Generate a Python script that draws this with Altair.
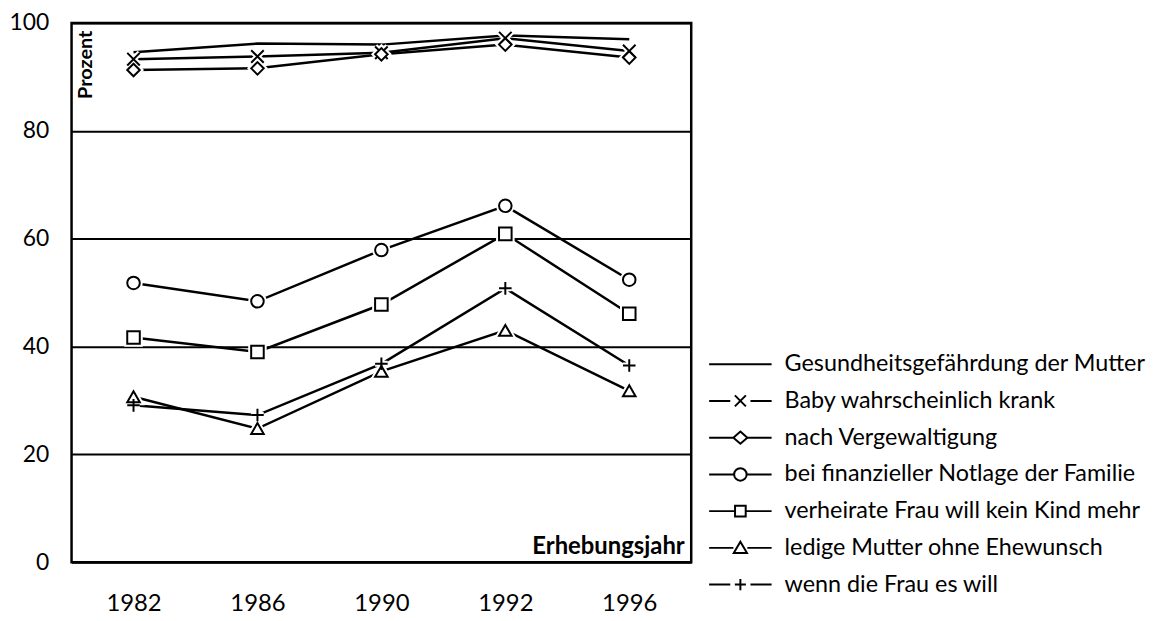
import altair as alt
import pandas as pd

years = ["1982", "1986", "1990", "1992", "1996"]
series = [
    "Gesundheitsgefährdung der Mutter",
    "Baby wahrscheinlich krank",
    "nach Vergewaltigung",
    "bei finanzieller Notlage der Familie",
    "verheirate Frau will kein Kind mehr",
    "ledige Mutter ohne Ehewunsch",
    "wenn die Frau es will",
]
gesundheit = [94.6, 96.2, 96.0, 97.7, 97.0]
baby = [93.3, 93.8, 94.5, 97.2, 94.8]
vergewaltigung = [91.3, 91.6, 94.2, 96.0, 93.6]
finanziell = [51.8, 48.4, 57.9, 66.1, 52.4]
verheiratet = [41.7, 39.0, 47.8, 60.9, 46.1]
ledig = [30.7, 24.8, 35.4, 43.0, 31.8]
wenn = [29.1, 27.3, 36.8, 50.8, 36.5]
values = [gesundheit, baby, vergewaltigung, finanziell, verheiratet, ledig, wenn]

rows = []
for si, (s, vals) in enumerate(zip(series, values)):
    for y, v in zip(years, vals):
        rows.append({"Jahr": y, "Prozent": v, "Serie": s, "order": si})
df = pd.DataFrame(rows)

FONT = "Lato"

# marker shapes for the plot (Gesundheit has none)
plot_series = series[1:]
plot_shapes = [
    "M-1,-1L1,1M-1,1L1,-1",
    "diamond",
    "circle",
    "square",
    "triangle-up",
    "M-1,0L1,0M0,-1L0,1",
]
# legend symbols: a line with the marker in the middle (unit = 18.5 px)
legend_shapes = [
    "M-1.7,0H1.7",
    "M-1.7,0H-0.55M0.55,0H1.7M-0.3,-0.3L0.3,0.3M-0.3,0.3L0.3,-0.3",
    "M-1.7,0H-0.38M0.38,0H1.7M0,-0.33L0.38,0L0,0.33L-0.38,0Z",
    "M-1.7,0H-0.34M0.34,0H1.7M-0.34,0A0.34,0.34,0,1,1,0.34,0A0.34,0.34,0,1,1,-0.34,0Z",
    "M-1.7,0H-0.29M0.29,0H1.7M-0.29,-0.29H0.29V0.29H-0.29Z",
    "M-1.7,0H-0.38M0.38,0H1.7M0,-0.34L0.36,0.28L-0.36,0.28Z",
    "M-1.7,0H-0.55M0.55,0H1.7M-0.3,0H0.3M0,-0.3V0.3",
]

x_enc = alt.X(
    "Jahr:O",
    sort=years,
    scale=alt.Scale(type="point", padding=0.5),
    axis=alt.Axis(
        labelAngle=0,
        labelFontSize=24,
        labelFont=FONT,
        labelColor="black",
        labelPadding=30,
        ticks=False,
        domain=False,
        grid=False,
        title="Erhebungsjahr",
        titleFont=FONT,
        titleFontSize=24,
        titleFontWeight="bold",
        titleColor="black",
        titleAlign="right",
        titleBaseline="alphabetic",
        titleX=617,
        titleY=-9,
    ),
)
y_enc = alt.Y(
    "Prozent:Q",
    scale=alt.Scale(domain=[0, 100], nice=False),
    axis=alt.Axis(
        values=[0, 20, 40, 60, 80, 100],
        labelFontSize=23,
        labelFont=FONT,
        labelColor="black",
        labelPadding=23,
        ticks=False,
        domain=False,
        grid=True,
        gridColor="black",
        gridWidth=2,
        gridOpacity=1,
        title="Prozent",
        titleFont=FONT,
        titleFontSize=20,
        titleFontWeight="bold",
        titleColor="black",
        titleAngle=270,
        titleAlign="right",
        titleBaseline="alphabetic",
        titleX=20,
        titleY=7,
    ),
)

base = alt.Chart(df)

lines = base.mark_line(color="black", strokeWidth=2.5).encode(
    x=x_enc, y=y_enc, detail="Serie:N", order="order:Q"
)

marker_shape = alt.Shape(
    "Serie:N",
    scale=alt.Scale(domain=plot_series, range=plot_shapes),
    legend=None,
)

halo = (
    base.transform_filter(alt.datum.order > 0)
    .mark_point(filled=False, stroke="white", strokeWidth=6, size=160, opacity=1)
    .encode(x=x_enc, y=y_enc, shape=marker_shape, order="order:Q")
)

markers = (
    base.transform_filter(alt.datum.order > 0)
    .mark_point(filled=True, fill="white", stroke="black", strokeWidth=2, size=160, opacity=1)
    .encode(x=x_enc, y=y_enc, shape=marker_shape, order="order:Q")
)

legend_layer = (
    base.transform_filter(alt.datum.order < 0)
    .mark_point(filled=False, color="black", strokeWidth=2, opacity=1)
    .encode(
        x=x_enc,
        y=y_enc,
        shape=alt.Shape(
            "Serie:N",
            scale=alt.Scale(domain=series, range=legend_shapes),
            legend=alt.Legend(
                title=None,
                orient="none",
                legendX=654,
                legendY=324,
                padding=0,
                symbolSize=1369,
                symbolStrokeWidth=2,
                symbolStrokeColor="black",
                symbolOpacity=1,
                labelFont=FONT,
                labelFontSize=23.5,
                labelColor="black",
                labelOffset=25,
                labelLimit=600,
                rowPadding=6,
            ),
        ),
    )
)

chart = (
    alt.layer(lines, halo, markers, legend_layer)
    .resolve_scale(shape="independent")
    .properties(
        width=624,
        height=543,
        padding={"left": 0, "top": 2, "right": 5, "bottom": 5},
        background="white",
    )
    .configure_view(stroke="black", strokeWidth=2.5)
)

chart.save("out.html", embed_options={"renderer": "svg", "actions": False})
